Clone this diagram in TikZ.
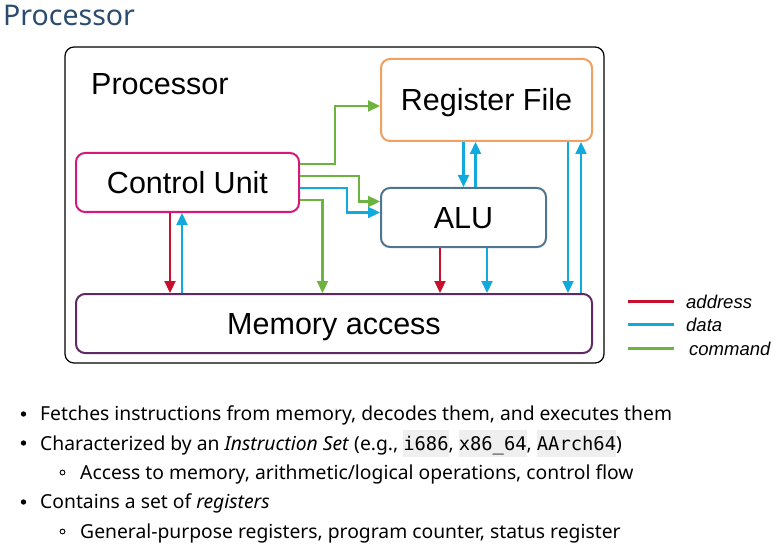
\documentclass[tikz,border=0pt]{standalone}
\usepackage{fontspec}
\setmainfont{Noto Sans}
\newfontfamily\diagfont{Liberation Sans}
\newfontfamily\codefont{DejaVu Sans Mono}
\usepackage{xcolor}
\usetikzlibrary{arrows.meta}

\definecolor{titleblue}{HTML}{2B4C6F}
\definecolor{addrred}{HTML}{C8102E}
\definecolor{datablue}{HTML}{12A9DC}
\definecolor{cmdgreen}{HTML}{6DB33F}
\definecolor{rfborder}{HTML}{F0A060}
\definecolor{cuborder}{HTML}{D6187A}
\definecolor{aluborder}{HTML}{4F7590}
\definecolor{memborder}{HTML}{5E2A63}
\definecolor{codebg}{HTML}{EFEFEF}

\newcommand{\codebox}[1]{{\setlength{\fboxsep}{0pt}\colorbox{codebg}{\rule[-6.5pt]{0pt}{27pt}\codefont\fontsize{18.8}{22}\selectfont #1}}}

\begin{document}
\begin{tikzpicture}[x=1pt, y=-1pt,
    unit/.style={draw, line width=2pt, rounded corners=9pt, inner sep=0pt,
        text height=21.8pt, text depth=0pt,
        font=\diagfont\fontsize{30.5}{36}\selectfont},
    wire/.style={line width=2.3pt, -{Triangle[length=12pt, width=11pt]}},
    addr/.style={wire, addrred},
    dat/.style={wire, datablue},
    cmd/.style={wire, cmdgreen},
    legtext/.style={anchor=base west, inner sep=0pt, text=black,
        font=\diagfont\itshape\fontsize{18.5}{22}\selectfont},
    bullettext/.style={anchor=base west, inner sep=0pt, font=\fontsize{19.3}{23}\selectfont}]
    \useasboundingbox (0,0) rectangle (783,553);

    % Slide title
    \node[anchor=base west, inner sep=0pt, text=titleblue,
        font=\fontsize{28.5}{34}\selectfont] (title) at (3,25.5) {Processor};

    % Processor frame
    \draw[line width=1.2pt, rounded corners=9pt] (65,47) rectangle (604,363);
    \node[anchor=base west, inner sep=0pt, font=\diagfont\fontsize{30.5}{36}\selectfont]
        (proc) at (91,95) {Processor};

    % Units
    \node[unit, rfborder, text=black, minimum width=211pt, minimum height=82pt]
        (rf) at (486.5,100) {Register File};
    \node[unit, cuborder, text=black, minimum width=223pt, minimum height=59pt]
        (cu) at (187.5,182.5) {Control Unit};
    \node[unit, aluborder, text=black, minimum width=165pt, minimum height=59pt]
        (alu) at (463.5,217.5) {ALU};
    \node[unit, memborder, text=black, minimum width=516pt, minimum height=59pt]
        (mem) at (334,323.5) {Memory access};

    % Control unit outputs
    \draw[cmd] ([yshift=18.5pt]cu.east) -- ++(35,0) |- ([yshift=-6pt]rf.west);
    \draw[cmd] ([yshift=6.5pt]cu.east) -- ++(59,0) |- ([yshift=16pt]alu.west);
    \draw[dat] ([yshift=-5.5pt]cu.east) -- ++(47,0) |- ([yshift=5pt]alu.west);
    \draw[cmd] ([yshift=-17.5pt]cu.east) -| ([xshift=-11.5pt]mem.north);

    % Control unit <-> memory
    \draw[addr] ([xshift=-17.5pt]cu.south) -- ([xshift=-17.5pt]cu.south |- mem.north);
    \draw[dat] ([xshift=-5.5pt]cu.south |- mem.north) -- ([xshift=-5.5pt]cu.south);

    % Register file <-> ALU
    \draw[dat] (alu.north |- rf.south) -- (alu.north);
    \draw[dat] ([xshift=12pt]alu.north) -- ([xshift=12pt]alu.north |- rf.south);

    % ALU -> memory
    \draw[addr] ([xshift=-23.5pt]alu.south) -- ([xshift=-23.5pt]alu.south |- mem.north);
    \draw[dat] ([xshift=23.5pt]alu.south) -- ([xshift=23.5pt]alu.south |- mem.north);

    % Register file <-> memory
    \draw[dat] ([xshift=81.5pt]rf.south) -- ([xshift=81.5pt]rf.south |- mem.north);
    \draw[dat] ([xshift=94.5pt]rf.south |- mem.north) -- ([xshift=94.5pt]rf.south);

    % Legend
    \coordinate (leg) at (628,301.5);
    \draw[line width=2.3pt, addrred] (leg) -- ++(46,0);
    \node[legtext] (legaddr) at (686,308.5) {address};
    \draw[line width=2.3pt, datablue] ([yshift=-23pt]leg) -- ++(46,0);
    \node[legtext] (legdata) at (686,331.5) {data};
    \draw[line width=2.3pt, cmdgreen] ([yshift=-47pt]leg) -- ++(46,0);
    \node[legtext] (legcmd) at (689,355.5) {command};

    % Bullet list
    \fill (23.5,414) circle (2.7pt);
    \node[bullettext] (b1) at (40,420.7) {Fetches instructions from memory, decodes them, and executes them};
    \fill (23.5,443) circle (2.7pt);
    \node[bullettext] (b2) at (40,450) {Characterized by an \textit{Instruction Set} (e.g., \codebox{i686}, \codebox{x86\_64}, \codebox{AArch64})};
    \draw[line width=0.9pt] (62.5,472.5) circle (2.4pt);
    \node[bullettext] (b3) at (80,479) {Access to memory, arithmetic/logical operations, control flow};
    \fill (23.5,502) circle (2.7pt);
    \node[bullettext] (b4) at (40,508.5) {Contains a set of \textit{registers}};
    \draw[line width=0.9pt] (62.5,531.5) circle (2.4pt);
    \node[bullettext] (b5) at (80,538) {General-purpose registers, program counter, status register};
\end{tikzpicture}
\end{document}
